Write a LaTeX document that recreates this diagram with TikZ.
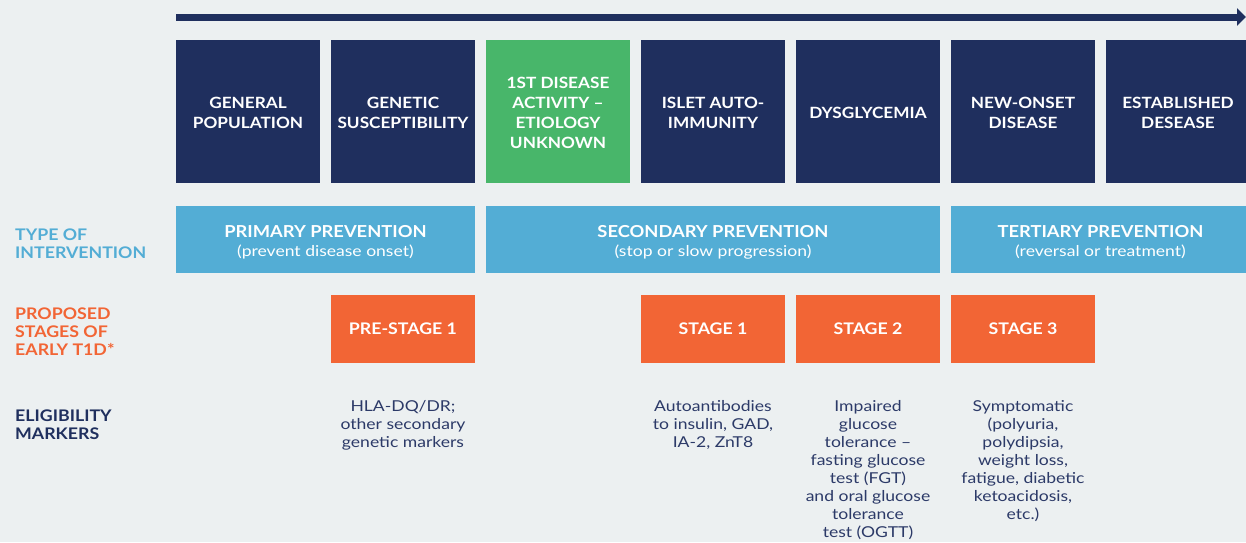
\documentclass[tikz,border=0pt]{standalone}
\usepackage{fontspec}
\setmainfont{Lato}[UprightFeatures={FakeStretch=1.17}, BoldFeatures={FakeStretch=1.11}]
\usetikzlibrary{arrows.meta}
\definecolor{bgc}{HTML}{ECF0F1}
\definecolor{navy}{HTML}{1F2F5E}
\definecolor{tgreen}{HTML}{48B66A}
\definecolor{sky}{HTML}{53ADD5}
\definecolor{orng}{HTML}{F26535}
\definecolor{txt}{HTML}{2C3A68}
\tikzset{
  phasebox/.style={rectangle, inner sep=0pt, minimum width=144pt, minimum height=143pt,
    text=white, align=center, font=\bfseries\fontsize{15.5}{20}\selectfont},
  prevbox/.style={rectangle, fill=sky, inner sep=0pt, minimum height=67pt,
    text=white, align=center, font=\fontsize{15}{19}\selectfont},
  stagebox/.style={rectangle, fill=orng, inner sep=0pt, minimum width=144pt, minimum height=68pt,
    text=white, align=center, font=\bfseries\fontsize{16}{19}\selectfont},
  sidelabel/.style={anchor=north west, inner sep=0pt, align=left,
    font=\bfseries\fontsize{16}{18}\selectfont},
  markertext/.style={anchor=north, inner sep=0pt, align=center, text=txt,
    font=\fontsize{15}{18}\selectfont},
  timeline/.style={navy, line width=7pt, -{Triangle[length=9pt,width=17pt]}}
}
\newcommand{\ttl}[1]{{\bfseries\fontsize{16.5}{19}\selectfont\rule{0pt}{17.8pt}#1}}
\newcommand{\ph}{\rule{0pt}{14.1pt}}
\begin{document}
\begin{tikzpicture}[x=1pt,y=-1pt]
\clip (0,0) rectangle (1246,542);
\fill[bgc] (0,0) rectangle (1246,542);
% timeline arrow
\coordinate (tstart) at (176,17);
\coordinate (tend) at (1246,17);
\draw[timeline] (tstart) -- (tend);
% phase boxes
\node[phasebox, fill=navy] (b1) at (248,111.5) {\ph GENERAL\\POPULATION};
\node[phasebox, fill=navy] (b2) at (403,111.5) {\ph GENETIC\\SUSCEPTIBILITY};
\node[phasebox, fill=tgreen] (b3) at (558,111.5) {\ph 1ST DISEASE\\ACTIVITY --\\ETIOLOGY\\UNKNOWN};
\node[phasebox, fill=navy] (b4) at (713,111.5) {\ph ISLET AUTO-\\IMMUNITY};
\node[phasebox, fill=navy] (b5) at (868,111.5) {\ph DYSGLYCEMIA};
\node[phasebox, fill=navy] (b6) at (1023,111.5) {\ph NEW-ONSET\\DISEASE};
\node[phasebox, fill=navy] (b7) at (1178,111.5) {\ph ESTABLISHED\\DESEASE};
% prevention row
\node[prevbox, minimum width=299pt] (p1) at (325.5,239.5) {\ttl{PRIMARY PREVENTION}\\(prevent disease onset)};
\node[prevbox, minimum width=454pt] (p2) at (713,239.5) {\ttl{SECONDARY PREVENTION}\\(stop or slow progression)};
\node[prevbox, minimum width=299pt] (p3) at (1100.5,239.5) {\ttl{TERTIARY PREVENTION}\\(reversal or treatment)};
% stages row
\node[stagebox] (s0) at (403,329) {PRE-STAGE 1};
\node[stagebox] (s1) at (713,329) {STAGE 1};
\node[stagebox] (s2) at (868,329) {STAGE 2};
\node[stagebox] (s3) at (1023,329) {STAGE 3};
% side labels
\node[sidelabel, text=sky] (l1) at (15,229) {TYPE OF\\INTERVENTION};
\node[sidelabel, text=orng] (l2) at (15,308) {PROPOSED\\STAGES OF\\EARLY T1D*};
\node[sidelabel, text=navy] (l3) at (15,410) {ELIGIBILITY\\MARKERS};
% eligibility markers
\node[markertext] (m0) at (403,400.5) {HLA-DQ/DR;\\other secondary\\genetic markers};
\node[markertext] (m1) at (713,400.5) {Autoantibodies\\to insulin, GAD,\\IA-2, ZnT8};
\node[markertext] (m2) at (868,400.5) {Impaired\\glucose\\tolerance --\\fasting glucose\\test (FGT)\\and oral glucose\\tolerance\\test (OGTT)};
\node[markertext] (m3) at (1023,400.5) {Symptomatic\\(polyuria,\\polydipsia,\\weight loss,\\fatigue, diabetic\\ketoacidosis,\\etc.)};
\end{tikzpicture}
\end{document}
